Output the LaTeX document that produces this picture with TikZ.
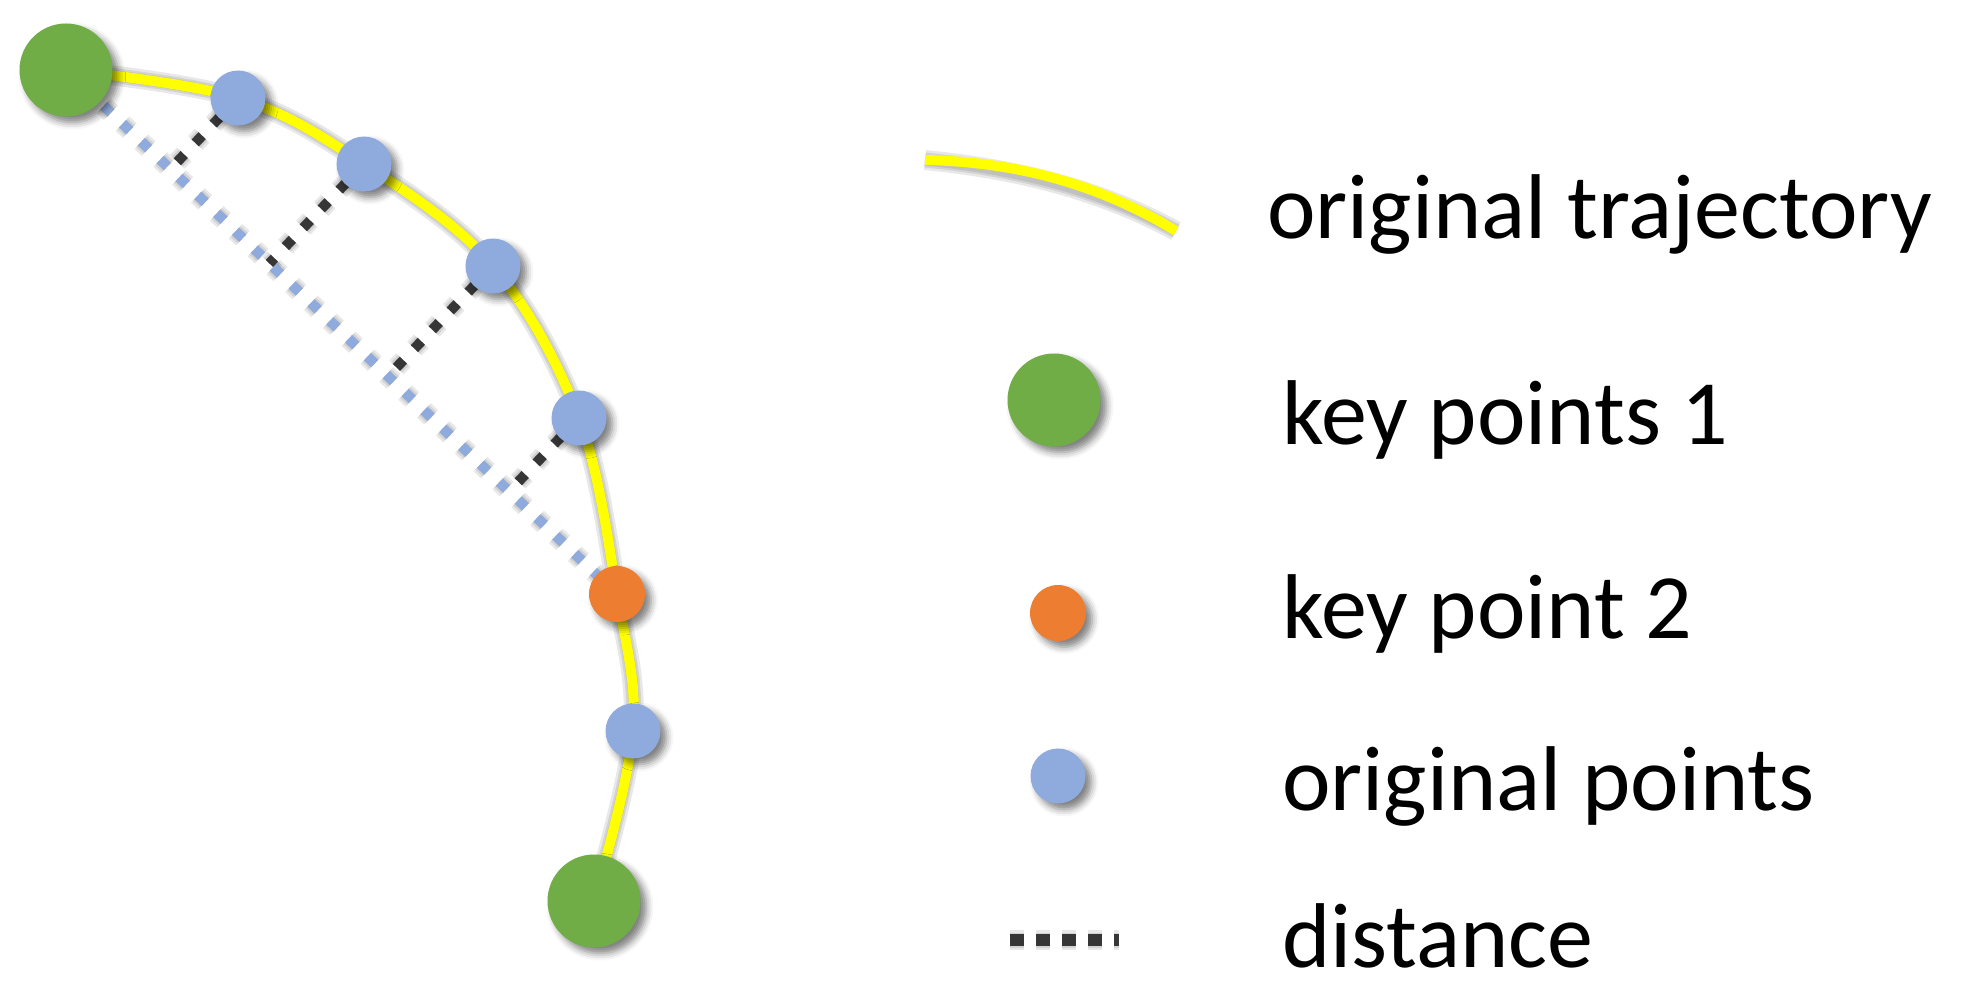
\documentclass[tikz,border=0pt]{standalone}
\usepackage{fontspec}
\setmainfont{Carlito}
\usetikzlibrary{calc,shadows.blur}
\definecolor{kgreen}{HTML}{70AD47}
\definecolor{kblue}{HTML}{8FAADC}
\definecolor{korange}{HTML}{ED7D31}
\definecolor{kyellow}{HTML}{FFFF00}
\definecolor{kdark}{HTML}{363636}
\begin{document}
\begin{tikzpicture}[x=1pt,y=-1pt,
  dotshadow/.style={blur shadow={shadow xshift=6pt, shadow yshift=-6pt, shadow blur radius=7pt, shadow opacity=50}},
  bigdot/.style={circle, fill=kgreen, minimum size=93pt, inner sep=0pt, dotshadow},
  keydot/.style={circle, fill=korange, minimum size=56pt, inner sep=0pt, dotshadow},
  origdot/.style={circle, fill=kblue, minimum size=55pt, inner sep=0pt, dotshadow},
  traj/.style={draw=kyellow, line width=10pt},
  chord/.style={draw=kblue, line width=10pt, dash pattern=on 10pt off 16pt},
  dist/.style={draw=kdark, line width=10pt, dash pattern=on 10pt off 16pt},
  lshadow/.style={draw=black, opacity=0.09},
  lbl/.style={anchor=base west, inner sep=0pt, font=\fontsize{92}{110}\selectfont}
]
\useasboundingbox (0,0) rectangle (1961,998);
% positions
\coordinate (G1) at (66,70);
\coordinate (B1) at (238,98);
\coordinate (B2) at (364,164);
\coordinate (B3) at (493,266);
\coordinate (B4) at (579,418);
\coordinate (O)  at (617,594);
\coordinate (B5) at (633,731);
\coordinate (G2) at (594,901);
\coordinate (F1) at ($(G1)!(B1)!(O)$);
\coordinate (F2) at ($(G1)!(B2)!(O)$);
\coordinate (F3) at ($(G1)!(B3)!(O)$);
\coordinate (F4) at ($(G1)!(B4)!(O)$);
% legend positions
\coordinate (LTa) at (925,160);
\coordinate (LTb) at (1176,231);
\coordinate (LDa) at (1010,940);
\coordinate (LDb) at (1119,940);
% soft shadows of lines
\begin{scope}[shift={(6,8)}]
  \foreach \w in {11,15,20} {
    \path[lshadow, line width=\w pt] plot[smooth, tension=0.6] coordinates {(G1) (B1) (B2) (B3) (B4) (O) (B5) (G2)};
    \path[lshadow, line width=\w pt] (LTa) .. controls (1020,162) and (1100,185) .. (LTb);
    \path[lshadow, line width=\w pt, dash pattern=on 10pt off 16pt] (G1) -- (O);
    \path[lshadow, line width=\w pt, dash pattern=on 10pt off 16pt] (B1) -- (F1);
    \path[lshadow, line width=\w pt, dash pattern=on 10pt off 16pt] (B2) -- (F2);
    \path[lshadow, line width=\w pt, dash pattern=on 10pt off 16pt] (B3) -- (F3);
    \path[lshadow, line width=\w pt, dash pattern=on 10pt off 16pt] (B4) -- (F4);
    \path[lshadow, line width=\w pt, dash pattern=on 14pt off 12pt] (LDa) -- (LDb);
  }
\end{scope}
% trajectory
\path[traj] plot[smooth, tension=0.6] coordinates {(G1) (B1) (B2) (B3) (B4) (O) (B5) (G2)};
% chord and distances
\path[chord] (G1) -- (O);
\path[dist] (B1) -- (F1);
\path[dist] (B2) -- (F2);
\path[dist] (B3) -- (F3);
\path[dist] (B4) -- (F4);
% points
\node[bigdot] (g1) at (G1) {};
\node[origdot] (b1) at (B1) {};
\node[origdot] (b2) at (B2) {};
\node[origdot] (b3) at (B3) {};
\node[origdot] (b4) at (B4) {};
\node[keydot] (o) at (O) {};
\node[origdot] (b5) at (B5) {};
\node[bigdot] (g2) at (G2) {};
% legend
\path[traj] (LTa) .. controls (1020,162) and (1100,185) .. (LTb);
\node[lbl] (t1) at (1267,238) {original trajectory};
\node[bigdot] (lg) at (1054,400) {};
\node[lbl] (t2) at (1282,444) {key points 1};
\node[keydot] (lo) at (1058,613) {};
\node[lbl] (t3) at (1282,638) {key point 2};
\node[origdot] (lb) at (1058,776) {};
\node[lbl] (t4) at (1282,810) {original points};
\path[dist, line width=12pt, dash pattern=on 14pt off 12pt] (LDa) -- (LDb);
\node[lbl] (t5) at (1282,967) {distance};
\end{tikzpicture}
\end{document}
